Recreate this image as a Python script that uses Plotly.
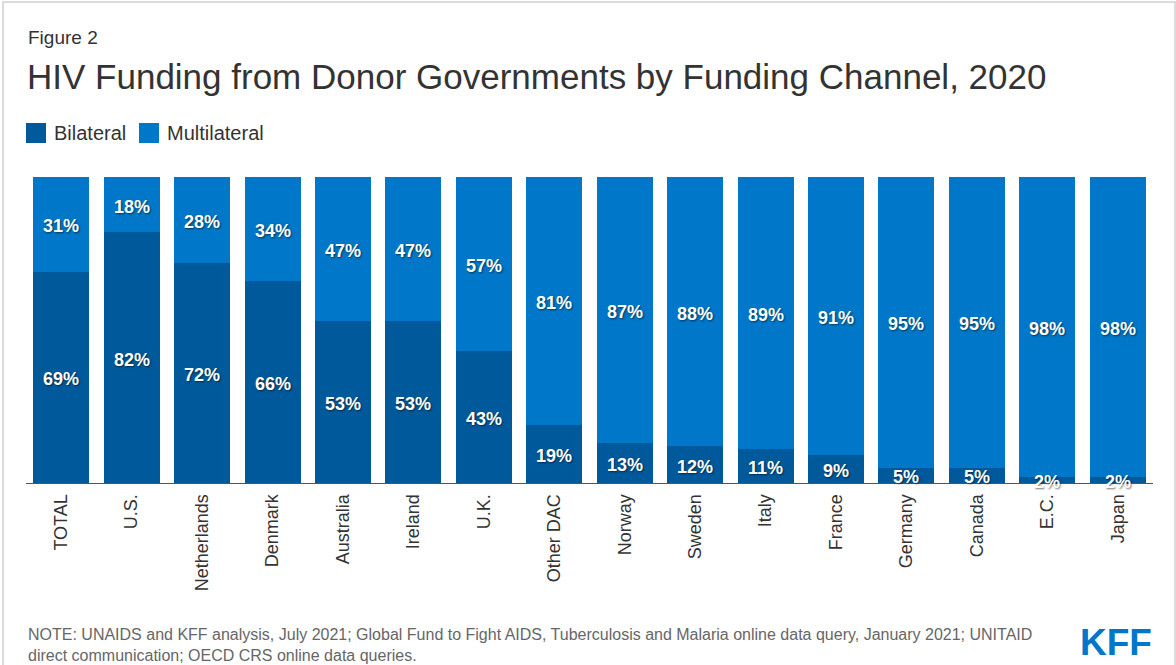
import plotly.graph_objects as go

# Funding channel shares (%), 2020
donors = ["TOTAL", "U.S.", "Netherlands", "Denmark", "Australia", "Ireland", "U.K.",
          "Other DAC", "Norway", "Sweden", "Italy", "France", "Germany", "Canada",
          "E.C.", "Japan"]
bilateral = [69, 82, 72, 66, 53, 53, 43, 19, 13, 12, 11, 9, 5, 5, 2, 2]
multilateral = [31, 18, 28, 34, 47, 47, 57, 81, 87, 88, 89, 91, 95, 95, 98, 98]

BILATERAL_COLOR = "#00599b"
MULTILATERAL_COLOR = "#0077c8"
FONT = "Liberation Sans, Arial, sans-serif"

W, H = 1176, 665
ML, MR, MT, MB = 26, 23, 177, 182
PW, PH = W - ML - MR, H - MT - MB


def px_x(p):
    return (p - ML) / PW


def px_y(p):
    return (H - MB - p) / PH


fig = go.Figure()
fig.add_bar(x=donors, y=bilateral, name="Bilateral", marker_color=BILATERAL_COLOR,
            marker_line_width=0, hoverinfo="x+y")
fig.add_bar(x=donors, y=multilateral, name="Multilateral", marker_color=MULTILATERAL_COLOR,
            marker_line_width=0, hoverinfo="x+y")

# White value labels centred in each segment, drawn above all bars
label_font = dict(family=FONT, size=18, color="white", weight="bold",
                  shadow="1px 1px 2px rgba(0,0,0,0.55)")
value_labels = []
for name, b, m in zip(donors, bilateral, multilateral):
    for val, mid in ((b, b / 2), (m, b + m / 2)):
        value_labels.append(dict(x=name, y=mid, xref="x", yref="y", text=f"{val}%",
                                 showarrow=False, yshift=-2, font=label_font))

shapes = [
    # outer frame
    dict(type="rect", xref="paper", yref="paper", x0=px_x(3), x1=px_x(1175),
         y0=px_y(2), y1=px_y(700), line=dict(color="#d0d0d0", width=1.5),
         fillcolor="rgba(0,0,0,0)", layer="below"),
    # legend swatches
    dict(type="rect", xref="paper", yref="paper", x0=px_x(26), x1=px_x(46),
         y0=px_y(123), y1=px_y(143), fillcolor=BILATERAL_COLOR, line_width=0),
    dict(type="rect", xref="paper", yref="paper", x0=px_x(139), x1=px_x(159),
         y0=px_y(123), y1=px_y(143), fillcolor=MULTILATERAL_COLOR, line_width=0),
]

annotations = [
    dict(text="Figure 2", x=px_x(26), y=px_y(37), xanchor="left", yanchor="middle",
         font=dict(family=FONT, size=19, color="#333333")),
    dict(text="HIV Funding from Donor Governments by Funding Channel, 2020",
         x=px_x(25), y=px_y(76), xanchor="left", yanchor="middle",
         font=dict(family=FONT, size=35, color="#333333")),
    dict(text="Bilateral", x=px_x(52), y=px_y(133), xanchor="left", yanchor="middle",
         font=dict(family=FONT, size=20, color="#333333")),
    dict(text="Multilateral", x=px_x(165), y=px_y(133), xanchor="left", yanchor="middle",
         font=dict(family=FONT, size=20, color="#333333")),
    dict(text="NOTE: UNAIDS and KFF analysis, July 2021; Global Fund to Fight AIDS, Tuberculosis "
              "and Malaria online data query, January 2021; UNITAID<br>"
              "direct communication; OECD CRS online data queries.",
         x=px_x(26), y=px_y(645), xanchor="left", yanchor="middle", align="left",
         font=dict(family=FONT, size=16, color="#666666")),
    dict(text="<b>KFF</b>", x=px_x(1154), y=px_y(642), xanchor="right", yanchor="middle",
         font=dict(family=FONT, size=37, color="#0077c8")),
]
for a in annotations:
    a.update(xref="paper", yref="paper", showarrow=False)

fig.update_layout(
    width=W, height=H,
    margin=dict(l=ML, r=MR, t=MT, b=MB, autoexpand=False),
    barmode="stack", bargap=0.205,
    paper_bgcolor="white", plot_bgcolor="white",
    showlegend=False,
    font=dict(family=FONT, color="#333333"),
    shapes=shapes, annotations=annotations + value_labels,
    xaxis=dict(range=[-0.5, len(donors) - 0.5], tickangle=-90, showgrid=False,
               showline=True, linecolor="#555555", linewidth=1, ticks="",
               ticklabelstandoff=3,
               tickfont=dict(family=FONT, size=18, color="#333333"), fixedrange=True),
    yaxis=dict(range=[0, 100], visible=False, fixedrange=True),
)

fig.write_html("out.html", config={"displayModeBar": False})
